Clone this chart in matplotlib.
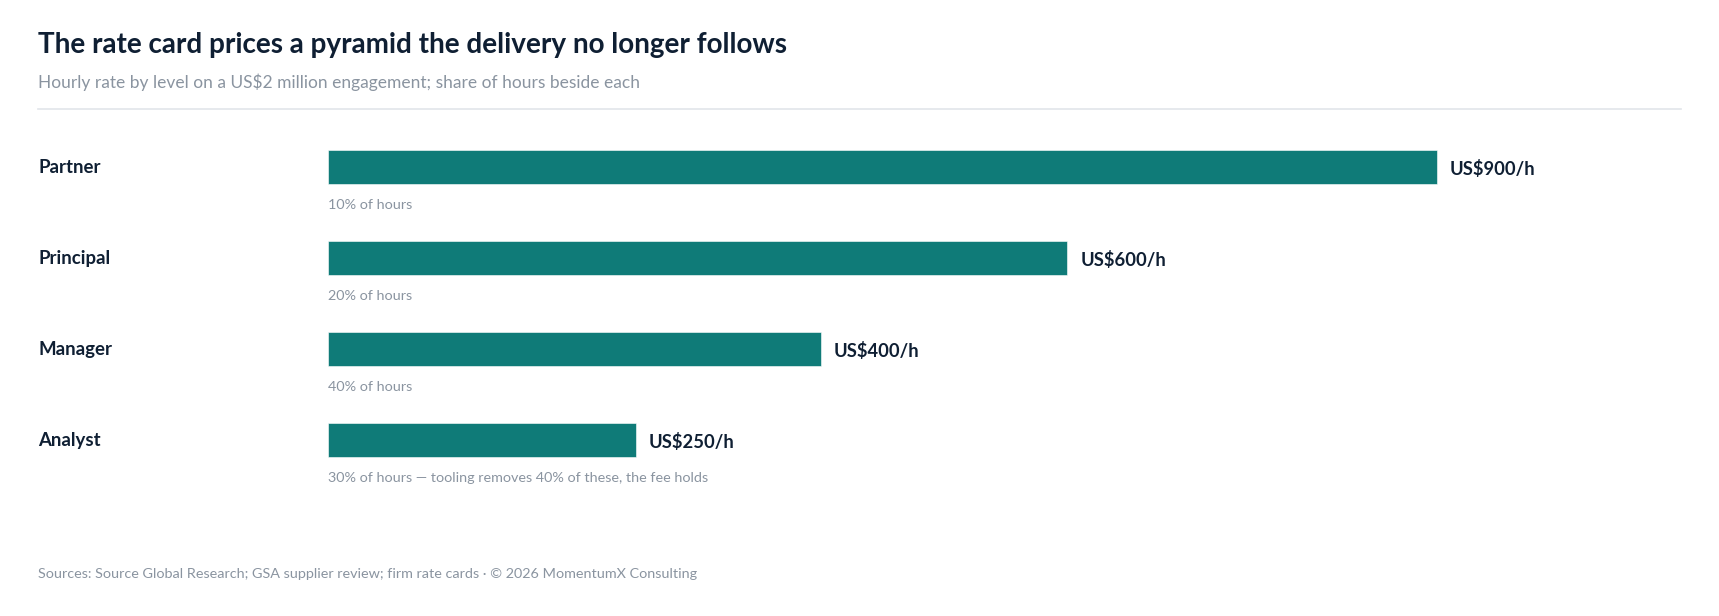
import matplotlib.pyplot as plt
from matplotlib.lines import Line2D
from matplotlib.transforms import blended_transform_factory

plt.rcParams['font.family'] = ['Lato', 'DejaVu Sans']

# data
levels = ['Partner', 'Principal', 'Manager', 'Analyst']
rates = [900, 600, 400, 250]
rate_labels = ['US$900/h', 'US$600/h', 'US$400/h', 'US$250/h']
hour_notes = ['10% of hours', '20% of hours', '40% of hours',
              '30% of hours \u2014 tooling removes 40% of these, the fee holds']

title = 'The rate card prices a pyramid the delivery no longer follows'
subtitle = 'Hourly rate by level on a US$2 million engagement; share of hours beside each'
footer = 'Sources: Source Global Research; GSA supplier review; firm rate cards \u00b7 \u00a9 2026 MomentumX Consulting'

# colours
teal = '#0f7b78'
navy = '#0f1f33'
grey = '#8a94a0'
rule = '#e2e5ea'

W, H = 1719, 616
fig = plt.figure(figsize=(W / 100, H / 100), dpi=100)

def fx(px):
    return px / W

def fy(px):
    return 1 - px / H

# header
fig.text(fx(38), fy(53), title, fontsize=20.1, fontweight='bold', color=navy, va='baseline')
fig.text(fx(38), fy(88), subtitle, fontsize=12.5, color=grey, va='baseline')
fig.add_artist(Line2D([fx(38), fx(1681)], [fy(109), fy(109)], color=rule, lw=1.2))

# bar area: value 0 at x=328px, 900 at x=1437px
left_px, right_px = 328, 1681
px_per_unit = (1437 - 328) / 900
pitch = 91
top_px = 167 - pitch / 2
ax = fig.add_axes([fx(left_px), fy(top_px + 4 * pitch), fx(right_px - left_px), 4 * pitch / H])
ax.set_xlim(0, (right_px - left_px) / px_per_unit)
ax.set_ylim(3.5, -0.5)
ax.axis('off')

ypos = list(range(len(levels)))
ax.barh(ypos, rates, height=34 / pitch, color=teal, edgecolor='white', linewidth=0.4)

for y, r, lab in zip(ypos, rates, rate_labels):
    ax.annotate(lab, (r, y), xytext=(13, -2), textcoords='offset pixels',
                fontsize=13.2, fontweight='bold', color=navy, va='center', ha='left')

for y, note in zip(ypos, hour_notes):
    ax.text(0, y + 0.42, note, fontsize=10.4, color=grey, va='center', ha='left')

tr = blended_transform_factory(fig.transFigure, ax.transData)
for y, lev in zip(ypos, levels):
    ax.text(fx(38), y + 0.005, lev, transform=tr, fontsize=13.4, fontweight='bold',
            color=navy, va='center', ha='left')

fig.text(fx(38), fy(574), footer, fontsize=10.4, color=grey, va='center')

fig.savefig('out.png', dpi=100, facecolor='white')
